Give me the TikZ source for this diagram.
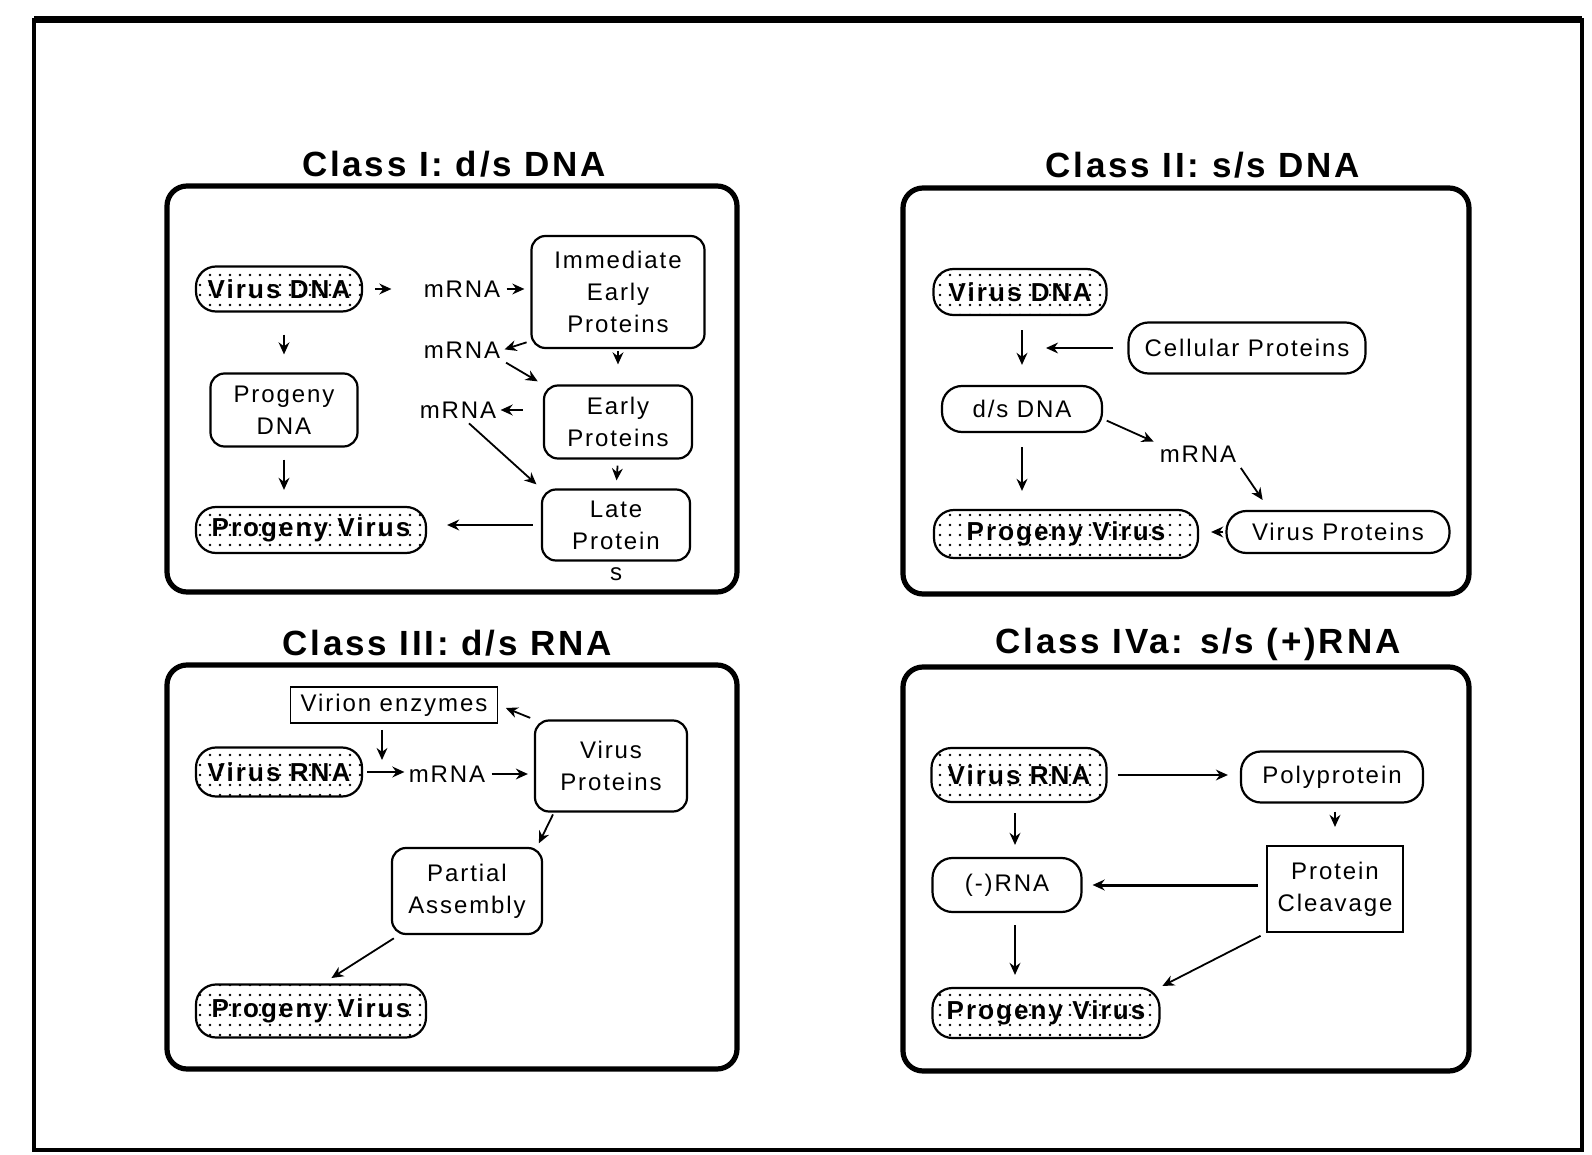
\documentclass[tikz,border=0pt]{standalone}
\usepackage{fontspec}
\setmainfont{Liberation Sans}[LetterSpace=8]
\usetikzlibrary{arrows.meta,calc,patterns.meta}

\begin{document}
\begin{tikzpicture}[
  x=0.5pt, y=-0.5pt,
  panel/.style={draw=black, line width=2.6pt, rounded corners=10pt},
  heading/.style={font=\fontsize{17.5}{20}\selectfont\bfseries, inner sep=0pt},
  stage/.style={
    draw=black, line width=1.1pt, rounded corners=7pt,
    align=center, inner sep=2pt,
    font=\fontsize{12}{16}\selectfont
  },
  pill/.style={stage, rounded corners=10pt},
  virion/.style={
    pill, pattern={Dots[distance=5pt, radius=0.7pt]},
    font=\fontsize{13}{16}\selectfont\bfseries
  },
  plainbox/.style={stage, rounded corners=0pt},
  msg/.style={font=\fontsize{12}{14}\selectfont, inner sep=1pt},
  flow/.style={-{Stealth[length=6pt, width=5.4pt]}, line width=0.9pt,
    shorten <=2pt, shorten >=2pt},
  heavyflow/.style={flow, line width=1.5pt}
]

\useasboundingbox (0,0) rectangle (1592,1155);
\fill[white] (0,0) rectangle (1592,1155);

% Outer frame.
\draw[line width=1.6pt] (34,20) rectangle (1582,1150);
\draw[line width=3.5pt] (34,20) -- (1582,20);

% Panel frames and headings.
\draw[panel] (167,186) rectangle (737,592);
\draw[panel] (903,188) rectangle (1469,594);
\draw[panel] (167,665) rectangle (737,1069);
\draw[panel] (903,667) rectangle (1469,1071);

\node[heading] (title1) at (454,164) {Class I: d/s DNA};
\node[heading] (title2) at (1203,165) {Class II: s/s DNA};
\node[heading] (title3) at (447,643) {Class III: d/s RNA};
\node[heading] (title4) at (1198,644) {Class IVa: s/s (+)RNA};

% Class I: d/s DNA.
\node[virion, minimum width=83pt, minimum height=22.5pt] (vdna1) at (279,289) {Virus DNA};
\node[msg] (mrna1a) at (462,289) {mRNA};
\node[stage, minimum width=86.5pt, minimum height=56pt] (iep) at (618,292)
  {Immediate\\Early\\Proteins};
\node[msg] (mrna1b) at (462,350) {mRNA};
\node[stage, minimum width=74pt, minimum height=36.5pt] (ep) at (618,422)
  {Early\\Proteins};
\node[msg] (mrna1c) at (458,410) {mRNA};
\node[stage, minimum width=74pt, minimum height=35.5pt,
  label={[msg, inner sep=0pt, yshift=-3pt]below:s}] (late) at (616,525)
  {Late\\Protein};
\node[stage, minimum width=73.5pt, minimum height=36.5pt] (pdna) at (284,410)
  {Progeny\\DNA};
\node[virion, minimum width=115pt, minimum height=23pt] (pv1) at (311,530) {Progeny Virus};

\draw[flow, shorten <=6pt, shorten >=15pt] (vdna1.east) -- (mrna1a.west);
\draw[flow, shorten >=3pt] (mrna1a.east) -- (mrna1a.east -| iep.west);
\draw[flow, shorten >=1pt] ([yshift=4pt]iep.south west) -- (mrna1b.east);
\draw[flow, shorten >=3pt] (mrna1b.south east) -- (ep.north west);
\draw[flow, shorten <=1pt, shorten >=10pt] (iep.south) -- (ep.north);
\draw[flow, shorten <=10pt, shorten >=1pt] (mrna1c.east -| ep.west) -- (mrna1c.east);
\draw[flow, shorten >=3pt] ([xshift=4pt]mrna1c.south) -- (late.north west);
\draw[flow, shorten <=3pt, shorten >=4pt] (ep.south) -- (late.north);
\draw[flow, shorten <=4pt, shorten >=10pt] (late.west) -- (late.west -| pv1.east);
\draw[flow, shorten <=11pt, shorten >=9pt] (pdna.north |- vdna1.south) -- (pdna.north);
\draw[flow, shorten <=6pt, shorten >=8pt] (pdna.south) -- (pdna.south |- pv1.north);

% Class II: s/s DNA.
\node[virion, minimum width=86.5pt, minimum height=23pt] (vdna2) at (1020,292) {Virus DNA};
\node[pill, minimum width=118.5pt, minimum height=25.5pt] (cp) at (1247,348) {Cellular Proteins};
\node[pill, minimum width=80pt, minimum height=23pt] (dsdna) at (1022,409) {d/s DNA};
\node[msg] (mrna2) at (1198,454) {mRNA};
\node[virion, minimum width=132pt, minimum height=24pt] (pv2) at (1066,534) {Progeny Virus};
\node[pill, minimum width=111.5pt, minimum height=21pt] (vp2) at (1338,532) {Virus Proteins};
\coordinate (meet2) at (1046,348);

\draw[flow, shorten <=7pt, shorten >=10pt] (dsdna.north |- vdna2.south) -- (dsdna.north);
\draw[flow, shorten <=7pt, shorten >=0pt] (cp.west) -- (meet2);
\draw[flow] ([yshift=-5pt]dsdna.east) -- (mrna2.north west);
\draw[flow, shorten >=6pt] (mrna2.south east) -- ([xshift=22pt]vp2.north west);
\draw[flow, shorten <=7pt, shorten >=9pt] (dsdna.south) -- (dsdna.south |- pv2.north);
\draw[flow, shorten <=1pt, shorten >=6pt] (vp2.west) -- (vp2.west -| pv2.east);

% Class III: d/s RNA.
\node[plainbox, minimum width=103.5pt, minimum height=18pt, line width=0.9pt] (ve) at (394,705)
  {Virion enzymes};
\node[virion, minimum width=83pt, minimum height=24.5pt] (vrna3) at (279,772) {Virus RNA};
\node[msg] (mrna3) at (447,774) {mRNA};
\node[stage, minimum width=76pt, minimum height=45.5pt] (vp3) at (611,766) {Virus\\Proteins};
\node[stage, minimum width=75pt, minimum height=43pt] (pa) at (467,891) {Partial\\Assembly};
\node[virion, minimum width=115pt, minimum height=26.5pt] (pv3) at (311,1011) {Progeny Virus};
\coordinate (meet3) at (382,760);

\draw[flow, shorten <=3pt, shorten >=0pt] (ve.south -| meet3) -- (meet3);
\draw[flow, shorten >=1pt] (vrna3.east) -- (vrna3.east -| mrna3.west);
\draw[flow, shorten >=3pt] (mrna3.east) -- (mrna3.east -| vp3.west);
\draw[flow, shorten >=4pt] (vp3.north west) -- (ve.east);
\draw[flow, shorten <=1pt] ([xshift=10pt]vp3.south west) -- ([xshift=-3pt]pa.north east);
\draw[flow, shorten <=3pt, shorten >=5pt] ([xshift=4pt]pa.south west) -- ([xshift=6pt]pv3.north);

% Class IVa: s/s (+)RNA.
\node[virion, minimum width=87.5pt, minimum height=27pt] (vrna4) at (1019,775) {Virus RNA};
\node[pill, minimum width=91pt, minimum height=25.5pt] (poly) at (1332,777) {Polyprotein};
\node[plainbox, minimum width=68pt, minimum height=43pt] (pc) at (1335,889) {Protein\\Cleavage};
\node[pill, minimum width=74.5pt, minimum height=27pt] (nrna4) at (1007,885) {(-)RNA};
\node[virion, minimum width=113.5pt, minimum height=25pt] (pv4) at (1046,1013) {Progeny Virus};

\draw[flow, shorten <=5pt, shorten >=6pt] (vrna4.east) -- (vrna4.east -| poly.west);
\draw[flow, shorten <=4pt, shorten >=9pt] (pc.north |- poly.south) -- (pc.north);
\draw[heavyflow, shorten <=4pt, shorten >=5pt] (nrna4.east -| pc.west) -- (nrna4.east);
\draw[flow, shorten <=5pt, shorten >=6pt] ([xshift=-2pt]vrna4.south) -- ([xshift=-2pt]vrna4.south |- nrna4.north);
\draw[flow, shorten <=6pt, shorten >=6pt] ([xshift=4pt]nrna4.south) -- ([xshift=4pt]nrna4.south |- pv4.north);
\draw[flow, shorten <=3pt, shorten >=1pt] (pc.south west) -- (pv4.north east);

\end{tikzpicture}
\end{document}
